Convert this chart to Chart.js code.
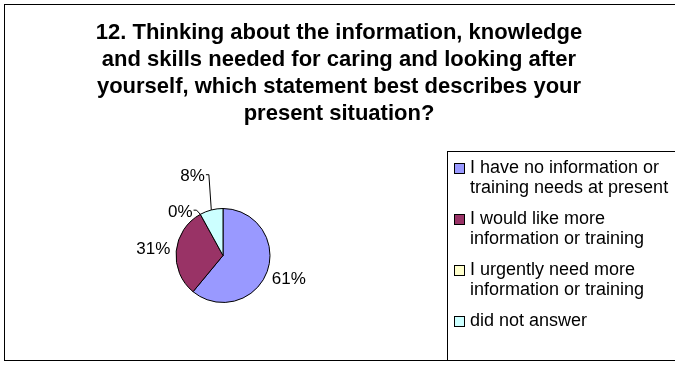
<!DOCTYPE html>
<html>
<head>
<meta charset="utf-8">
<script src="https://cdn.jsdelivr.net/npm/chart.js@4/dist/chart.umd.min.js"></script>
<style>
  html, body { margin: 0; padding: 0; background: #fff; }
  #wrap { width: 675px; height: 365px; }
</style>
</head>
<body>
<div id="wrap"><canvas id="chart" width="675" height="365"></canvas></div>
<script>
// 数据
const titleLines = [
    '12. Thinking about the information, knowledge',
    'and skills needed for caring and looking after',
    'yourself, which statement best describes your',
    'present situation?'
];
const categories = [
    'I have no information or training needs at present',
    'I would like more information or training',
    'I urgently need more information or training',
    'did not answer'
];
const percents = [61, 31, 0, 8];
const sliceColors = ['#9999FF', '#993366', '#FFFFCC', '#CCFFFF'];

// 标签微调 (小扇区的标签被挤到外面, 带引导线)
const labelNudge = [[0, 0], [0, 0], [-9, 18], [-13, -11]];
const FONT = "'Liberation Sans', Arial, sans-serif";

// 外框、标题、标签、图例
const decorPlugin = {
    id: 'decor',
    beforeDraw(chart) {
        const ctx = chart.ctx;
        ctx.save();
        ctx.fillStyle = '#fff';
        ctx.fillRect(0, 0, chart.width, chart.height);
        ctx.restore();
    },
    afterDraw(chart) {
        const ctx = chart.ctx;
        ctx.save();

        // 外框
        ctx.strokeStyle = '#000';
        ctx.lineWidth = 1;
        ctx.strokeRect(4.5, 4.5, 720, 356);

        // 标题
        ctx.fillStyle = '#000';
        ctx.font = 'bold 22px ' + FONT;
        ctx.textAlign = 'center';
        ctx.textBaseline = 'alphabetic';
        titleLines.forEach((line, i) => {
            ctx.fillText(line, 339, 39 + i * 27);
        });

        // 扇区标签
        const meta = chart.getDatasetMeta(0);
        const total = percents.reduce((a, b) => a + b, 0);
        ctx.font = '17px ' + FONT;
        ctx.textBaseline = 'middle';
        meta.data.forEach((arc, i) => {
            const p = arc.getProps(['x', 'y', 'startAngle', 'endAngle', 'outerRadius'], true);
            const mid = (p.startAngle + p.endAngle) / 2;
            const d = p.outerRadius + 23;
            const cx = p.x + Math.cos(mid) * d + labelNudge[i][0];
            const cy = p.y + Math.sin(mid) * d + labelNudge[i][1];
            const text = Math.round(percents[i] / total * 100) + '%';
            ctx.fillText(text, cx, cy);
            if (labelNudge[i][0] || labelNudge[i][1]) {
                const w = ctx.measureText(text).width;
                const x0 = cx + w / 2 + 1;
                const y0 = cy - 2;
                const ex = p.x + Math.cos(mid) * p.outerRadius;
                const ey = p.y + Math.sin(mid) * p.outerRadius;
                ctx.beginPath();
                ctx.moveTo(x0, y0);
                ctx.lineTo(x0 + 3, y0);
                ctx.lineTo(ex, ey);
                ctx.stroke();
            }
        });

        // 图例
        ctx.strokeRect(447.5, 151.5, 300, 209);
        ctx.font = '18px ' + FONT;
        ctx.textAlign = 'left';
        let y = 168.5;
        categories.forEach((cat, i) => {
            const lines = wrapText(ctx, cat, 205);
            ctx.fillStyle = sliceColors[i];
            ctx.fillRect(454.5, y - 5, 10, 10);
            ctx.strokeStyle = '#000';
            ctx.strokeRect(454.5, y - 5, 10, 10);
            ctx.fillStyle = '#000';
            lines.forEach((line, j) => {
                ctx.fillText(line, 470, y + j * 20);
            });
            y += lines.length * 20 + 11;
        });

        ctx.restore();
    }
};

// 按宽度折行
function wrapText(ctx, text, maxWidth) {
    const words = text.split(' ');
    const lines = [];
    let cur = '';
    words.forEach(w => {
        const test = cur ? cur + ' ' + w : w;
        if (cur && ctx.measureText(test).width > maxWidth) {
            lines.push(cur);
            cur = w;
        } else {
            cur = test;
        }
    });
    if (cur) lines.push(cur);
    return lines;
}

new Chart(document.getElementById('chart').getContext('2d'), {
    type: 'pie',
    data: {
        labels: categories,
        datasets: [{
            data: percents,
            backgroundColor: sliceColors,
            borderColor: '#000',
            borderWidth: 1
        }]
    },
    options: {
        responsive: false,
        animation: false,
        layout: {
            padding: { left: 150, right: 379, top: 208, bottom: 62 }
        },
        plugins: {
            legend: { display: false },
            title: { display: false },
            tooltip: { enabled: false }
        }
    },
    plugins: [decorPlugin]
});
</script>
</body>
</html>
